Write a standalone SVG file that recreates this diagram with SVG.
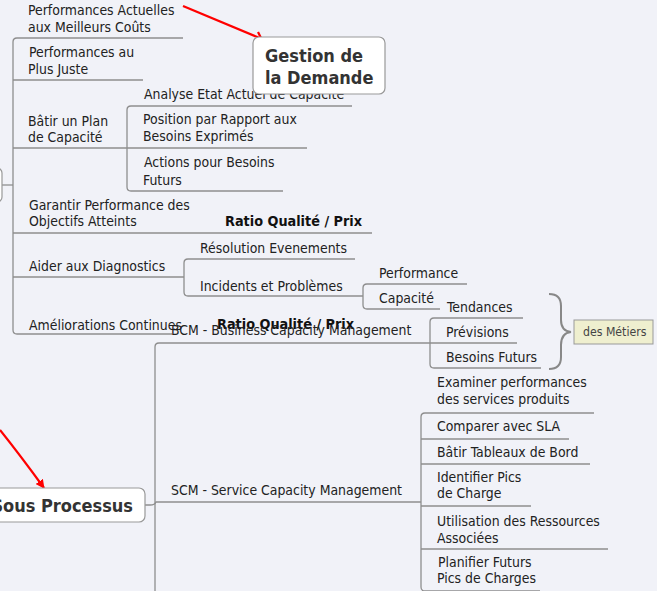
<svg xmlns="http://www.w3.org/2000/svg" width="657" height="591" viewBox="0 0 657 591">
<defs>
<style>
.t{font-family:"DejaVu Sans Condensed","DejaVu Sans",sans-serif;font-stretch:condensed;font-size:13.9px;fill:#222}
.b{font-family:"DejaVu Sans Condensed","DejaVu Sans",sans-serif;font-stretch:condensed;font-size:14.3px;font-weight:bold;fill:#111}
.h{font-family:"DejaVu Sans Condensed","DejaVu Sans",sans-serif;font-stretch:condensed;font-size:18px;font-weight:bold;fill:#333}
.n{font-family:"DejaVu Sans Condensed","DejaVu Sans",sans-serif;font-stretch:condensed;font-size:12.2px;fill:#444}
.c{fill:none;stroke:#8e8e8e;stroke-width:1.3}
.box{fill:#fff;stroke:#999;stroke-width:1.2}
.red{fill:none;stroke:#f00;stroke-width:2.2}
</style>
<marker id="ah" viewBox="0 0 10 10" refX="9" refY="5" markerWidth="9" markerHeight="9" markerUnits="userSpaceOnUse" orient="auto">
<path d="M0,0 L10,5 L0,10 z" fill="#f00"/>
</marker>
</defs>
<rect width="657" height="591" fill="#f1f2f8"/>
<g id="connectors">
<path class="c" d="M183,38 H17 Q13,38 13,42 V330 Q13,334 17,334 H172"/>
<path class="c" d="M13,80 H143"/>
<path class="c" d="M13,148 H307"/>
<path class="c" d="M13,233 H372"/>
<path class="c" d="M13,277 H184"/>
<path class="c" d="M2,185 H13"/>
<path class="c" d="M352,106 H131 Q127,106 127,110 V187 Q127,191 131,191 H283"/>
<path class="c" d="M355,259 H188 Q184,259 184,263 V292 Q184,296 188,296 H363"/>
<path class="c" d="M467,284 H367 Q363,284 363,288 V305 Q363,309 367,309 H440"/>
<path class="c" d="M430,343 H159 Q155,343 155,347 V600"/>
<path class="c" d="M145,505 H150 Q155,505 156,502 H421"/>
<path class="c" d="M523,318 H434 Q430,318 430,322 V364 Q430,368 434,368 H541"/>
<path class="c" d="M430,343 H517"/>
<path class="c" d="M594,413 H425 Q421,413 421,417 V587 Q421,591 425,591 H540"/>
<path class="c" d="M421,439 H569"/>
<path class="c" d="M421,464 H590"/>
<path class="c" d="M421,506 H531"/>
<path class="c" d="M421,549 H608"/>
<path d="M549,294 Q561,294 561,306 L561,320 Q561,331 571,332 Q561,333 561,345 L561,357 Q561,369 549,369" fill="none" stroke="#888" stroke-width="2"/>
<path class="red" d="M183,6 L262,39"/>
<path class="red" d="M258,32 L263,42"/>
<path class="red" d="M0,430 Q20,455 44,488" marker-end="url(#ah)"/>
</g>
<g id="root-left"><rect class="box" x="-100" y="168" width="102" height="34" rx="5"/></g>
<g id="perf-actuelles"><text class="t" x="28" y="15">Performances Actuelles</text><text class="t" x="28" y="32">aux Meilleurs Coûts</text></g>
<g id="perf-juste"><text class="t" x="29" y="57">Performances au</text><text class="t" x="28" y="74">Plus Juste</text></g>
<g id="batir-plan"><text class="t" x="28" y="126">Bâtir un Plan</text><text class="t" x="28" y="142">de Capacité</text></g>
<g id="analyse"><text class="t" x="144" y="99">Analyse Etat Actuel de Capacité</text></g>
<g id="position"><text class="t" x="143" y="124">Position par Rapport aux</text><text class="t" x="143" y="141">Besoins Exprimés</text></g>
<g id="actions"><text class="t" x="144" y="167">Actions pour Besoins</text><text class="t" x="143" y="185">Futurs</text></g>
<g id="garantir"><text class="t" x="29" y="210">Garantir Performance des</text><text class="t" x="29" y="226">Objectifs Atteints</text><text class="b" x="225" y="226">Ratio Qualité / Prix</text></g>
<g id="aider"><text class="t" x="29" y="271">Aider aux Diagnostics</text></g>
<g id="resolution"><text class="t" x="200" y="253">Résolution Evenements</text></g>
<g id="incidents"><text class="t" x="200" y="291">Incidents et Problèmes</text></g>
<g id="performance"><text class="t" x="379" y="278">Performance</text></g>
<g id="capacite"><text class="t" x="379" y="303">Capacité</text></g>
<g id="ameliorations"><text class="t" x="29" y="330">Améliorations Continues</text><text class="b" x="217" y="329">Ratio Qualité / Prix</text></g>
<g id="bcm"><text class="t" x="171" y="335">BCM - Business Capacity Management</text></g>
<g id="tendances"><text class="t" x="447" y="312">Tendances</text></g>
<g id="previsions"><text class="t" x="446" y="337">Prévisions</text></g>
<g id="besoins-futurs"><text class="t" x="446" y="362">Besoins Futurs</text></g>
<g id="des-metiers"><rect x="574" y="320" width="79" height="24" fill="#efefcf" stroke="#999" stroke-width="1"/><text class="n" x="583" y="336">des Métiers</text></g>
<g id="scm"><text class="t" x="171" y="495">SCM - Service Capacity Management</text></g>
<g id="examiner"><text class="t" x="437" y="387">Examiner performances</text><text class="t" x="437" y="404">des services produits</text></g>
<g id="comparer"><text class="t" x="437" y="431">Comparer avec SLA</text></g>
<g id="batir-tableaux"><text class="t" x="437" y="457">Bâtir Tableaux de Bord</text></g>
<g id="identifier"><text class="t" x="437" y="482">Identifier Pics</text><text class="t" x="437" y="498">de Charge</text></g>
<g id="utilisation"><text class="t" x="437" y="526">Utilisation des Ressources</text><text class="t" x="437" y="543">Associées</text></g>
<g id="planifier"><text class="t" x="438" y="567">Planifier Futurs</text><text class="t" x="437" y="583">Pics de Charges</text></g>
<g id="sous-processus"><rect class="box" x="-30" y="488" width="175" height="34" rx="6"/><text class="h" x="133" y="512" text-anchor="end">Sous Processus</text></g>
<g id="gestion-demande"><rect class="box" x="253" y="37" width="132" height="57" rx="6"/><text class="h" x="265" y="62">Gestion de</text><text class="h" x="265" y="84">la Demande</text></g>
</svg>
